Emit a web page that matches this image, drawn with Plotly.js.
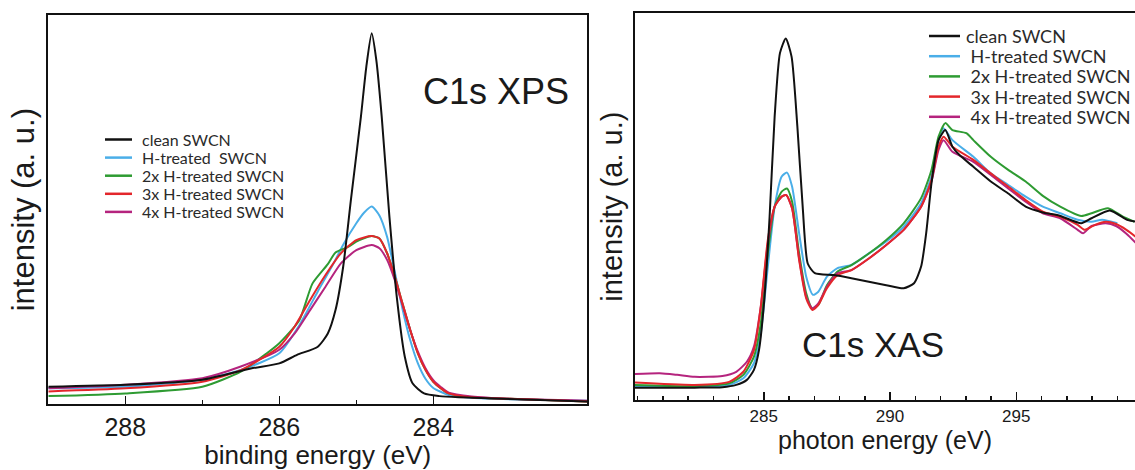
<!DOCTYPE html>
<html><head><meta charset="utf-8">
<script src="https://cdn.plot.ly/plotly-3.0.1.min.js"></script>
<style>html,body{margin:0;padding:0;background:#fff}#chart{width:1135px;height:470px}</style>
</head><body><div id="chart"></div>
<script>
// ---------- series names / colours ----------
const seriesColors = ['#111111', '#4aaee8', '#2e9b32', '#e3262b', '#b5247e'];
const xpsLegendNames = ['clean SWCN', 'H-treated\u00a0 SWCN', '2x H-treated SWCN', '3x H-treated SWCN', '4x H-treated SWCN'];
const xasLegendNames = ['clean SWCN', '\u00a0H-treated SWCN', '\u00a02x H-treated SWCN', '\u00a03x H-treated SWCN', '\u00a04x H-treated SWCN'];

// ---------- C1s XPS (binding energy, eV ; intensity a.u.) ----------
const xpsCleanE = [289.0, 288.0, 287.0, 286.37, 286.0, 285.77, 285.5, 285.37, 285.27, 285.17, 285.07, 284.94, 284.87, 284.8, 284.74, 284.67, 284.57, 284.47, 284.37, 284.27, 284.12, 283.92, 283.67, 282.0];
const xpsCleanI = [0.045, 0.05, 0.063, 0.092, 0.105, 0.127, 0.148, 0.182, 0.242, 0.354, 0.525, 0.739, 0.867, 0.953, 0.884, 0.739, 0.482, 0.268, 0.122, 0.054, 0.028, 0.021, 0.018, 0.007];

const xpsH1E = [289.0, 288.0, 287.0, 286.5, 286.0, 285.75, 285.5, 285.3, 285.17, 285.0, 284.9, 284.8, 284.7, 284.6, 284.5, 284.4, 284.3, 284.2, 284.1, 284.0, 283.8, 283.5, 283.0, 282.0];
const xpsH1I = [0.041, 0.045, 0.063, 0.088, 0.131, 0.2, 0.29, 0.36, 0.41, 0.465, 0.492, 0.508, 0.485, 0.43, 0.34, 0.245, 0.165, 0.105, 0.065, 0.042, 0.024, 0.017, 0.013, 0.009];

const xpsH2E = [289.0, 288.0, 287.0, 286.5, 286.17, 286.0, 285.74, 285.57, 285.37, 285.27, 285.1, 285.0, 284.8, 284.7, 284.6, 284.5, 284.4, 284.3, 284.2, 284.1, 284.0, 283.9, 283.8, 283.5, 283.0, 282.0];
const xpsH2I = [0.021, 0.028, 0.045, 0.084, 0.13, 0.157, 0.216, 0.31, 0.36, 0.39, 0.405, 0.418, 0.432, 0.426, 0.388, 0.328, 0.259, 0.191, 0.131, 0.088, 0.058, 0.041, 0.028, 0.018, 0.014, 0.007];

const xpsH3E = [289.0, 288.0, 287.0, 286.5, 286.0, 285.8, 285.6, 285.4, 285.2, 285.0, 284.8, 284.7, 284.6, 284.5, 284.4, 284.3, 284.2, 284.1, 284.0, 283.9, 283.8, 283.5, 283.0, 282.0];
const xpsH3I = [0.033, 0.041, 0.058, 0.088, 0.148, 0.2, 0.268, 0.332, 0.388, 0.422, 0.432, 0.426, 0.388, 0.328, 0.259, 0.191, 0.131, 0.088, 0.058, 0.041, 0.028, 0.018, 0.014, 0.007];

const xpsH4E = [289.0, 288.0, 287.0, 286.5, 286.0, 285.8, 285.6, 285.4, 285.2, 285.0, 284.8, 284.7, 284.6, 284.5, 284.4, 284.3, 284.2, 284.1, 284.0, 283.9, 283.8, 283.5, 283.0, 282.0];
const xpsH4I = [0.041, 0.05, 0.067, 0.097, 0.14, 0.182, 0.242, 0.302, 0.362, 0.396, 0.409, 0.401, 0.371, 0.319, 0.255, 0.191, 0.135, 0.092, 0.062, 0.044, 0.03, 0.02, 0.014, 0.009];

// ---------- C1s XAS (photon energy, eV ; intensity a.u.) ----------
const xasCleanE = [279.9, 282.26, 283.36, 283.91, 284.33, 284.61, 284.81, 285.02, 285.23, 285.43, 285.64, 285.87, 286.1, 286.33, 286.54, 286.74, 287.02, 287.78, 288.47, 289.16, 289.85, 290.54, 290.95, 291.23, 291.43, 291.64, 291.92, 292.19, 292.47, 292.74, 293.3, 293.99, 294.68, 295.37, 296.05, 296.74, 297.57, 297.98, 298.7, 299.42, 299.75];
const xasCleanI = [0.032, 0.032, 0.033, 0.039, 0.052, 0.078, 0.129, 0.259, 0.474, 0.733, 0.897, 0.935, 0.888, 0.707, 0.5, 0.353, 0.328, 0.323, 0.315, 0.306, 0.297, 0.289, 0.302, 0.345, 0.431, 0.56, 0.672, 0.698, 0.655, 0.634, 0.603, 0.565, 0.534, 0.5, 0.485, 0.476, 0.457, 0.47, 0.49, 0.465, 0.461];

const xasH1E = [279.9, 282.26, 283.63, 284.19, 284.61, 284.88, 285.16, 285.43, 285.71, 285.92, 286.12, 286.4, 286.68, 286.95, 287.16, 287.5, 287.92, 288.47, 289.16, 289.85, 290.54, 291.23, 291.64, 291.92, 292.12, 292.47, 293.3, 293.99, 294.68, 295.37, 296.05, 296.74, 297.43, 297.98, 298.4, 299.0];
const xasH1I = [0.034, 0.034, 0.039, 0.056, 0.095, 0.172, 0.345, 0.5, 0.578, 0.588, 0.552, 0.431, 0.319, 0.272, 0.28, 0.319, 0.341, 0.349, 0.379, 0.41, 0.448, 0.509, 0.578, 0.672, 0.703, 0.672, 0.629, 0.586, 0.556, 0.526, 0.5, 0.483, 0.466, 0.461, 0.466, 0.457];

const xasH2E = [279.9, 282.26, 283.63, 284.19, 284.61, 284.88, 285.16, 285.43, 285.71, 285.92, 286.12, 286.4, 286.68, 286.92, 287.16, 287.5, 287.92, 288.47, 289.16, 289.85, 290.54, 291.23, 291.64, 291.92, 292.19, 292.47, 293.02, 293.3, 293.99, 294.68, 295.37, 296.05, 296.74, 297.57, 297.98, 298.63, 299.22, 299.67];
const xasH2I = [0.039, 0.036, 0.043, 0.065, 0.112, 0.198, 0.379, 0.5, 0.539, 0.547, 0.513, 0.379, 0.276, 0.237, 0.246, 0.297, 0.332, 0.349, 0.379, 0.414, 0.457, 0.522, 0.595, 0.681, 0.716, 0.698, 0.69, 0.672, 0.629, 0.595, 0.565, 0.528, 0.5, 0.476, 0.483, 0.496, 0.474, 0.461];

const xasH3E = [279.9, 282.26, 283.63, 284.19, 284.61, 284.88, 285.16, 285.43, 285.71, 285.89, 286.12, 286.4, 286.68, 286.92, 287.16, 287.5, 287.92, 288.47, 289.16, 289.85, 290.54, 291.23, 291.64, 291.92, 292.12, 292.47, 293.3, 293.99, 294.68, 295.37, 296.05, 296.74, 297.43, 297.71, 298.12, 298.54, 298.95, 299.36, 299.75];
const xasH3I = [0.045, 0.039, 0.047, 0.073, 0.129, 0.241, 0.414, 0.5, 0.526, 0.53, 0.496, 0.362, 0.263, 0.233, 0.246, 0.289, 0.323, 0.336, 0.366, 0.401, 0.44, 0.5, 0.569, 0.655, 0.681, 0.655, 0.621, 0.586, 0.552, 0.517, 0.487, 0.474, 0.453, 0.44, 0.453, 0.461, 0.455, 0.44, 0.421];

const xasH4E = [279.9, 280.88, 281.57, 282.26, 283.36, 283.91, 284.33, 284.61, 284.88, 285.16, 285.43, 285.71, 285.89, 286.12, 286.4, 286.68, 286.92, 287.16, 287.5, 287.92, 288.47, 289.16, 289.85, 290.54, 291.23, 291.64, 291.92, 292.12, 292.47, 293.3, 293.99, 294.68, 295.37, 296.05, 296.74, 297.43, 297.64, 297.98, 298.54, 298.95, 299.36, 299.75];
const xasH4I = [0.067, 0.069, 0.065, 0.06, 0.062, 0.073, 0.099, 0.138, 0.241, 0.405, 0.5, 0.526, 0.53, 0.496, 0.366, 0.267, 0.237, 0.25, 0.293, 0.328, 0.336, 0.366, 0.401, 0.44, 0.5, 0.565, 0.647, 0.672, 0.642, 0.616, 0.582, 0.547, 0.513, 0.483, 0.47, 0.44, 0.431, 0.45, 0.457, 0.45, 0.43, 0.405];

// ---------- axis ticks ----------
const xpsTickVals = [288, 286, 284];
const xpsMinorTickVals = [287, 285];
const xasTickVals = [285, 290, 295];

const xpsSeries = [[xpsCleanE, xpsCleanI], [xpsH1E, xpsH1I], [xpsH2E, xpsH2I], [xpsH3E, xpsH3I], [xpsH4E, xpsH4I]];
const xasSeries = [[xasCleanE, xasCleanI], [xasH1E, xasH1I], [xasH2E, xasH2I], [xasH3E, xasH3I], [xasH4E, xasH4I]];

const traces = [];
const order = [1, 2, 4, 3, 0];
order.forEach(i => {
  traces.push({x: xpsSeries[i][0], y: xpsSeries[i][1], xaxis: 'x', yaxis: 'y', type: 'scatter', mode: 'lines',
    name: xpsLegendNames[i], showlegend: false, line: {color: seriesColors[i], width: 2, shape: 'spline', smoothing: 0.6}});
});
order.forEach(i => {
  traces.push({x: xasSeries[i][0], y: xasSeries[i][1], xaxis: 'x2', yaxis: 'y2', type: 'scatter', mode: 'lines',
    name: xasLegendNames[i], showlegend: false, line: {color: seriesColors[i], width: 2, shape: 'spline', smoothing: 0.6}});
});

const W = 1135, H = 470;
const px = v => v / W, py = v => 1 - v / H;
const titleFont = {family: 'Liberation Sans, Arial, sans-serif', color: '#1a1a1a'};

const shapes = [], annotations = [];
xpsLegendNames.forEach((n, i) => {
  const yy = 139.5 + i * 18.1;
  shapes.push({type: 'line', xref: 'paper', yref: 'paper', x0: px(105), x1: px(132), y0: py(yy), y1: py(yy), line: {color: seriesColors[i], width: 2.5}});
  annotations.push({xref: 'paper', yref: 'paper', x: px(140), y: py(yy), xanchor: 'left', yanchor: 'middle', showarrow: false,
    text: n, font: {family: 'Lato, sans-serif', size: 16, color: '#2a2a2a'}});
});
xasLegendNames.forEach((n, i) => {
  const yy = 36 + i * 20.2;
  shapes.push({type: 'line', xref: 'paper', yref: 'paper', x0: px(929), x1: px(960), y0: py(yy), y1: py(yy), line: {color: seriesColors[i], width: 2.5}});
  annotations.push({xref: 'paper', yref: 'paper', x: px(964), y: py(yy), xanchor: 'left', yanchor: 'middle', showarrow: false,
    text: n, font: {family: 'Lato, sans-serif', size: 18, color: '#2a2a2a'}});
});
annotations.push({xref: 'paper', yref: 'paper', x: px(496), y: py(91), xanchor: 'center', yanchor: 'middle', showarrow: false,
  text: 'C1s XPS', font: Object.assign({size: 36}, titleFont)});
annotations.push({xref: 'paper', yref: 'paper', x: px(873), y: py(344), xanchor: 'center', yanchor: 'middle', showarrow: false,
  text: 'C1s XAS', font: Object.assign({size: 35}, titleFont)});

const lineCol = '#111111';
const layout = {
  width: W, height: H,
  margin: {l: 0, r: 0, t: 0, b: 0},
  paper_bgcolor: '#ffffff', plot_bgcolor: '#ffffff',
  showlegend: false,
  xaxis: {domain: [px(48.3), px(587.3)], range: [289, 282], anchor: 'y',
    showline: true, linecolor: lineCol, linewidth: 2, mirror: true, showgrid: false, zeroline: false,
    ticks: 'inside', ticklen: 8, tickwidth: 1.5, tickcolor: lineCol, tickvals: xpsTickVals,
    minor: {tickvals: xpsMinorTickVals, ticks: 'inside', ticklen: 4, tickwidth: 1.5, tickcolor: lineCol, showgrid: false},
    tickfont: {family: 'Liberation Sans, Arial, sans-serif', size: 25, color: '#1a1a1a'},
    title: {text: 'binding energy (eV)', font: Object.assign({size: 26}, titleFont)}},
  yaxis: {domain: [1 - 404.3 / H, 1 - 15 / H], range: [0, 1], anchor: 'x',
    showline: true, linecolor: lineCol, linewidth: 2, mirror: true, showgrid: false, zeroline: false,
    ticks: '', showticklabels: false, automargin: true,
    title: {text: 'intensity (a. u.)', standoff: 2, font: Object.assign({size: 31}, titleFont)}},
  xaxis2: {domain: [px(635), 1], range: [279.9, 299.7], anchor: 'y2',
    showline: true, linecolor: lineCol, linewidth: 2, mirror: true, showgrid: false, zeroline: false,
    ticks: 'inside', ticklen: 8, tickwidth: 1.5, tickcolor: lineCol, tickvals: xasTickVals,
    minor: {dtick: 1, ticks: 'inside', ticklen: 4, tickwidth: 1.5, tickcolor: lineCol, showgrid: false},
    tickfont: {family: 'Liberation Sans, Arial, sans-serif', size: 17, color: '#1a1a1a'},
    automargin: true,
    title: {text: 'photon energy (eV)', standoff: 3, font: Object.assign({size: 25}, titleFont)}},
  yaxis2: {domain: [1 - 400 / H, 1 - 13.3 / H], range: [0, 1], anchor: 'x2',
    showline: true, linecolor: lineCol, linewidth: 2, mirror: false, showgrid: false, zeroline: false,
    ticks: '', showticklabels: false, automargin: true,
    title: {text: 'intensity (a. u.)', standoff: 2, font: Object.assign({size: 29}, titleFont)}},
  shapes: shapes,
  annotations: annotations
};

Plotly.newPlot('chart', traces, layout, {displayModeBar: false, staticPlot: true});
</script>
</body></html>
